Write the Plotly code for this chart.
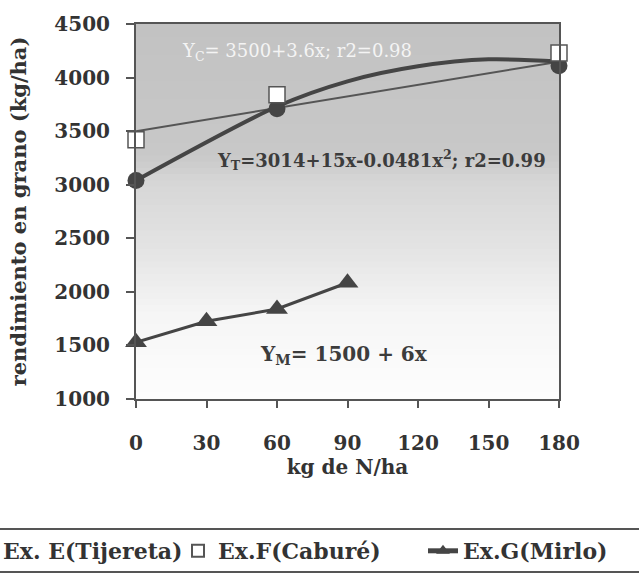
import plotly.graph_objects as go

# ---------------- data ----------------
x_e = [0, 60, 180]
y_e = [3040, 3710, 4110]
x_e_curve = [0, 60, 90, 120, 150, 180]
y_e_curve = [3040, 3730, 3965, 4105, 4170, 4150]

x_f = [0, 60, 180]
y_f = [3420, 3840, 4230]
x_f_trend = [0, 180]
y_f_trend = [3500, 4148]

x_g = [0, 30, 60, 90]
y_g = [1530, 1725, 1840, 2085]

x_ticks = [0, 30, 60, 90, 120, 150, 180]
y_ticks = [1000, 1500, 2000, 2500, 3000, 3500, 4000, 4500]

name_e = "Ex. E(Tijereta)"
name_f = "Ex.F(Caburé)"
name_g = "Ex.G(Mirlo)"

eq_f = "Y<sub>C</sub>= 3500+3.6x; r2=0.98"
eq_e = "Y<sub>T</sub>=3014+15x-0.0481x<sup>2</sup>; r2=0.99"
eq_g = "Y<sub>M</sub>= 1500 + 6x"

# ---------------- styling ----------------
FAM = "DejaVu Serif"
DARK = "#454545"
TXT = "#333333"

def bfont(size, color=TXT, weight="bold"):
    return dict(family=FAM, size=size, color=color, weight=weight)

fig = go.Figure()

fig.add_trace(go.Scatter(x=x_f_trend, y=y_f_trend, mode="lines",
                         line=dict(color="#555555", width=2),
                         showlegend=False, hoverinfo="skip"))
fig.add_trace(go.Scatter(x=x_e_curve, y=y_e_curve, mode="lines",
                         line=dict(color=DARK, width=4, shape="spline", smoothing=0.8),
                         showlegend=False, hoverinfo="skip"))
fig.add_trace(go.Scatter(x=x_e, y=y_e, mode="lines+markers", name=name_e,
                         line=dict(color=DARK, width=0),
                         marker=dict(symbol="circle", size=17, color=DARK),
                         cliponaxis=False, legend="legend"))
fig.add_trace(go.Scatter(x=x_g, y=y_g, mode="lines+markers", name=name_g,
                         line=dict(color=DARK, width=3),
                         marker=dict(symbol="triangle-up", size=19, color=DARK),
                         cliponaxis=False, legend="legend3"))
fig.add_trace(go.Scatter(x=x_f, y=y_f, mode="markers", name=name_f,
                         marker=dict(symbol="square", size=16, color="white",
                                     line=dict(color="#555555", width=1.5)),
                         cliponaxis=False, legend="legend2"))

# ---------------- background gradient (decoration) ----------------
stops_t = [0.0, 0.35, 0.42, 0.6, 0.78, 1.0]
stops_g = [194, 200, 214, 228, 246, 253]

def gray_at(t):
    for i in range(len(stops_t) - 1):
        if stops_t[i] <= t <= stops_t[i + 1]:
            f = (t - stops_t[i]) / (stops_t[i + 1] - stops_t[i])
            return stops_g[i] + f * (stops_g[i + 1] - stops_g[i])
    return stops_g[-1]

shapes = []
N = 60
for i in range(N):
    y0 = i / N
    y1 = (i + 1) / N
    t = 1 - (y0 + y1) / 2
    g = int(round(gray_at(t)))
    shapes.append(dict(type="rect", xref="paper", yref="paper", x0=0, x1=1,
                       y0=y0, y1=y1 + 0.002, layer="below",
                       fillcolor=f"rgb({g},{g},{g})", line=dict(width=0)))

# legend frame lines (top and bottom)
for yp in [(399 - 529) / 375, (399 - 572) / 375]:
    shapes.append(dict(type="line", xref="paper", yref="paper", x0=-0.5, x1=1.5,
                       y0=yp, y1=yp, line=dict(color="#555555", width=2)))

legend_common = dict(orientation="h", xref="paper", yref="paper",
                     y=(399 - 551) / 375, yanchor="middle", xanchor="left",
                     font=bfont(22), bgcolor="rgba(0,0,0,0)", borderwidth=0,
                     itemsizing="constant")

fig.update_layout(
    width=639, height=575,
    margin=dict(l=136, r=80, t=24, b=176, autoexpand=False),
    paper_bgcolor="white", plot_bgcolor="white",
    shapes=shapes,
    legend=dict(**legend_common, x=-0.409),
    legend2=dict(**legend_common, x=0.0993),
    legend3=dict(**legend_common, x=0.6785),
    xaxis=dict(range=[0, 180], tickvals=x_ticks, ticks="outside", ticklen=7,
               tickwidth=1.5, tickcolor="#555555", showline=True, linecolor="#555555",
               linewidth=2, mirror=True, showgrid=False, zeroline=False,
               tickfont=bfont(20), ticklabelstandoff=18,
               title=dict(text="kg de N/ha", font=bfont(20), standoff=6)),
    yaxis=dict(range=[1000, 4500], tickvals=y_ticks, ticks="outside", ticklen=8,
               tickwidth=1.5, tickcolor="#555555", showline=True, linecolor="#555555",
               linewidth=2, mirror=True, showgrid=False, zeroline=False,
               tickfont=bfont(20), ticklabelstandoff=12,
               title=dict(text="rendimiento en grano (kg/ha)", font=bfont(21), standoff=22)),
    annotations=[
        dict(text=eq_f, x=18.7, y=4239, xref="x", yref="y", xanchor="left",
             yanchor="middle", showarrow=False,
             font=dict(family=FAM, size=18, color="#f4f4f4")),
        dict(text=eq_e, x=33.6, y=3230, xref="x", yref="y", xanchor="left",
             yanchor="middle", showarrow=False, font=bfont(18, "#3c3c3c")),
        dict(text=eq_g, x=51.9, y=1409, xref="x", yref="y", xanchor="left",
             yanchor="middle", showarrow=False, font=bfont(20, "#3c3c3c")),
    ],
)

fig.write_html("out.html")
